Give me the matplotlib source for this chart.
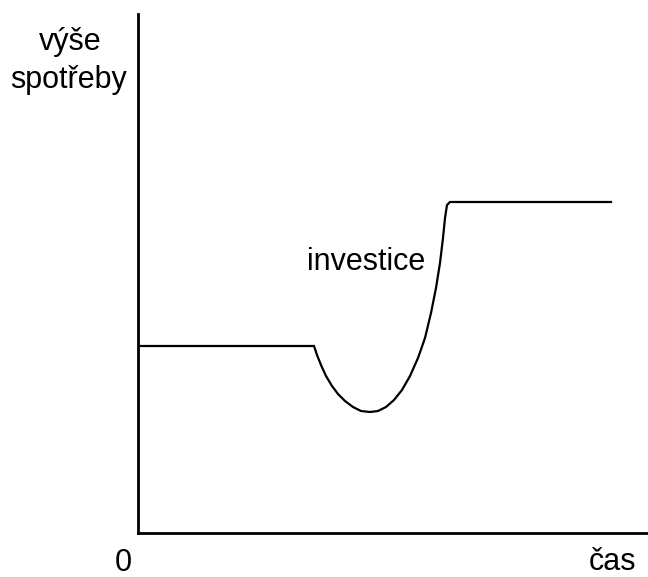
import matplotlib
matplotlib.use("Agg")
import matplotlib.pyplot as plt

# Curve of consumption over time (units: arbitrary)
time = [0, 176, 179, 183, 188, 194, 200, 207, 215, 223, 232, 240, 248, 256, 264,
        272, 280, 287, 293, 298, 302, 305, 307, 309, 312, 473]
consumption = [187, 187, 178, 168, 157, 147, 139, 132, 126, 122, 121, 122, 126,
               133, 143, 157, 175, 195, 220, 245, 270, 295, 315, 328, 331, 331]

fig = plt.figure(figsize=(6.48, 5.77), dpi=100)
W, H = 648, 577
ax = fig.add_axes([138 / W, (H - 533) / H, (W - 138) / W, (533 - 14) / H])
ax.set_xlim(0, 510)
ax.set_ylim(0, 519)
ax.plot(time, consumption, color="black", lw=1.6, solid_joinstyle="miter")
for s in ["top", "right"]:
    ax.spines[s].set_visible(False)
for s in ["left", "bottom"]:
    ax.spines[s].set_linewidth(2.0)
ax.set_xticks([])
ax.set_yticks([])

font = "Liberation Sans"
fs = 22
fig.text(70 / W, 1 - 42 / H, "výše", ha="center", va="center", fontsize=fs, family=font)
fig.text(69 / W, 1 - 80 / H, "spotřeby", ha="center", va="center", fontsize=fs, family=font)
fig.text(366 / W, 1 - 262 / H, "investice", ha="center", va="center", fontsize=fs, family=font)
fig.text(123 / W, 1 - 563 / H, "0", ha="center", va="center", fontsize=fs, family=font)
fig.text(613 / W, 1 - 562 / H, "čas", ha="center", va="center", fontsize=fs, family=font)

fig.savefig("out.png", dpi=100, facecolor="white")
